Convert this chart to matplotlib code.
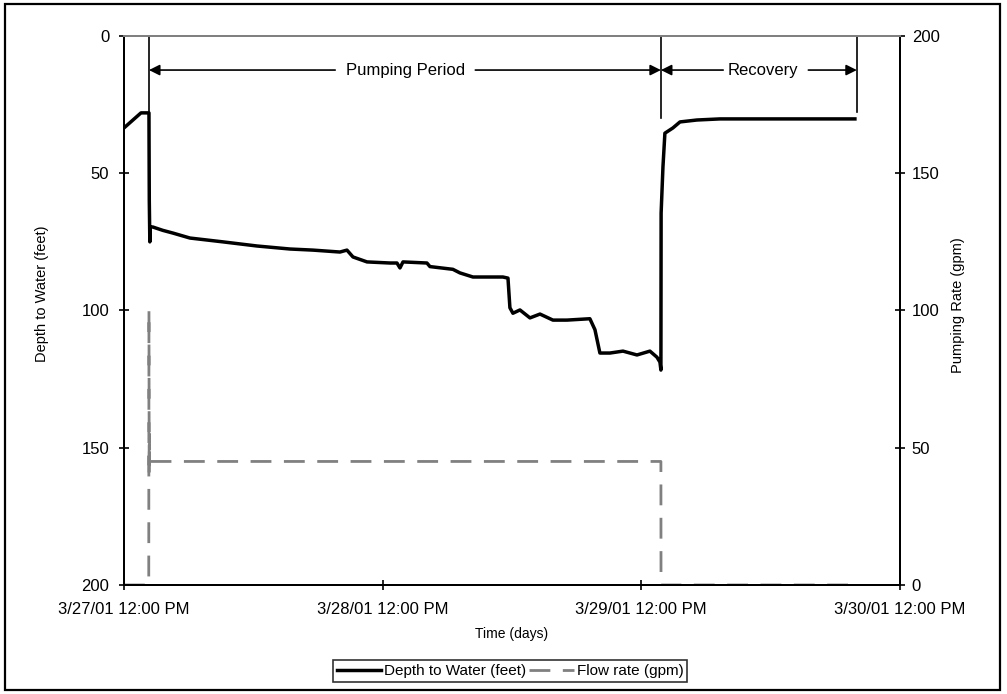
import matplotlib
matplotlib.use('Agg')
import matplotlib.pyplot as plt
import matplotlib.patches as patches
import datetime

plt.rcParams['font.family'] = ['Liberation Sans', 'DejaVu Sans']

t0 = datetime.datetime(2001, 3, 27, 12, 0)

# depth to water, hours after 3/27/01 12:00 PM vs feet
depth_hours = [0.0, 1.58, 2.32, 2.33, 2.35, 2.37, 2.40, 2.42, 2.69, 3.6, 4.55, 6.12, 9.19,
               12.34, 15.40, 17.54, 20.04, 20.69, 21.25, 22.55, 24.68, 25.33, 25.61,
               25.89, 28.11, 28.39, 30.52, 31.17, 32.38, 35.16, 35.63, 35.81, 36.09,
               36.74, 37.67, 38.60, 39.80, 41.10, 43.23, 43.70, 44.16, 45.09, 46.30,
               47.60, 48.80, 49.45, 49.73, 49.82, 49.84, 50.01, 50.19, 50.93, 51.59,
               53.16, 55.30, 67.82]
depth_ft = [33.5, 28.0, 28.0, 40.0, 60.0, 66.0, 75.0, 69.5, 69.6, 70.8, 71.8, 73.6, 75.0,
            76.5, 77.6, 78.0, 78.7, 78.0, 80.5, 82.3, 82.7, 82.7, 84.5,
            82.3, 82.7, 84.0, 85.0, 86.3, 87.8, 87.8, 88.2, 99.0, 101.0,
            99.8, 102.7, 101.3, 103.5, 103.5, 103.0, 107.0, 115.5, 115.5, 114.8,
            116.2, 114.8, 117.0, 118.8, 121.7, 64.5, 47.7, 35.4, 33.5, 31.3,
            30.6, 30.2, 30.2]

# flow rate, hours vs gpm
flow_hours = [0.0, 2.30, 2.32, 2.34, 2.36, 2.40, 49.82, 49.83, 67.6]
flow_gpm = [0, 0, 100, 40, 55, 45, 45, 0, 0]

pump_start = 2.32
pump_stop = 49.82
recovery_end = 68.0

xtick_labels = ['3/27/01 12:00 PM', '3/28/01 12:00 PM', '3/29/01 12:00 PM', '3/30/01 12:00 PM']


def hrs(h):
    return t0 + datetime.timedelta(hours=h)


fig = plt.figure(figsize=(10.07, 6.94), dpi=100)
ax = fig.add_axes([0.1231, 0.1571, 0.7706, 0.791])
ax2 = ax.twinx()

ax.plot([hrs(h) for h in depth_hours], depth_ft, color='black', lw=2.5, zorder=5,
        label='Depth to Water (feet)')
ax2.plot([hrs(h) for h in flow_hours], flow_gpm, color='#808080', lw=2.0,
         linestyle=(0, (7.5, 4.5)), label='Flow rate (gpm)')

ax.set_xlim(hrs(0), hrs(72))
ax.set_ylim(200, 0)
ax2.set_ylim(0, 200)
ax.set_yticks([0, 50, 100, 150, 200])
ax2.set_yticks([0, 50, 100, 150, 200])
ax.set_xticks([hrs(24 * i) for i in range(4)])
ax.set_xticklabels(xtick_labels)

for a in (ax, ax2):
    a.tick_params(direction='inout', length=7, width=1.2, labelsize=12)
    for s in a.spines.values():
        s.set_linewidth(1.4)
    a.spines['top'].set_color('#808080')
ax.tick_params(axis='y', pad=7)
ax.tick_params(axis='x', pad=9)
ax2.tick_params(axis='y', pad=5)
ax.set_zorder(ax2.get_zorder() + 1)
ax.patch.set_visible(False)

ax.set_xlabel('Time (days)', fontsize=10)
ax.xaxis.set_label_coords(0.5, -0.077)
ax.set_ylabel('Depth to Water (feet)', fontsize=10.5)
ax.yaxis.set_label_coords(-0.097, 0.53)
ax2.set_ylabel('Pumping Rate (gpm)', fontsize=10.5)
ax2.yaxis.set_label_coords(1.066, 0.51)

# period markers
arrow_y = 12.4
ax.plot([hrs(pump_start)] * 2, [0, 28], color='black', lw=1.2)
ax.plot([hrs(pump_stop)] * 2, [0, 30], color='black', lw=1.2)
ax.plot([hrs(recovery_end)] * 2, [0, 27.8], color='black', lw=1.2)

ap = dict(arrowstyle='-|>', color='black', lw=1.2, shrinkA=0, shrinkB=0, mutation_scale=16)
ax.annotate('', xy=(hrs(pump_start), arrow_y), xytext=(hrs(19.6), arrow_y), arrowprops=ap)
ax.annotate('', xy=(hrs(pump_stop), arrow_y), xytext=(hrs(32.6), arrow_y), arrowprops=ap)
ax.text(hrs(26.1), arrow_y, 'Pumping Period', ha='center', va='center', fontsize=12)
ax.annotate('', xy=(hrs(pump_stop), arrow_y), xytext=(hrs(55.6), arrow_y), arrowprops=ap)
ax.annotate('', xy=(hrs(recovery_end), arrow_y), xytext=(hrs(63.5), arrow_y), arrowprops=ap)
ax.text(hrs(59.3), arrow_y, 'Recovery', ha='center', va='center', fontsize=12)

h1, l1 = ax.get_legend_handles_labels()
h2, l2 = ax2.get_legend_handles_labels()
leg = fig.legend(h1 + h2, l1 + l2, loc='center', bbox_to_anchor=(510 / 1007, 1 - 671 / 694),
                 ncol=2, fontsize=11, frameon=True, fancybox=False, handlelength=2.9,
                 handletextpad=0.2, columnspacing=0.2, borderpad=0.25, borderaxespad=0)
leg.get_frame().set_edgecolor('black')
leg.get_frame().set_linewidth(1.2)

fig.patches.append(patches.Rectangle((5 / 1007, 4 / 694), 995 / 1007, 686 / 694,
                                     transform=fig.transFigure, fill=False,
                                     edgecolor='black', lw=1.6))

fig.savefig('out.png', dpi=100)
